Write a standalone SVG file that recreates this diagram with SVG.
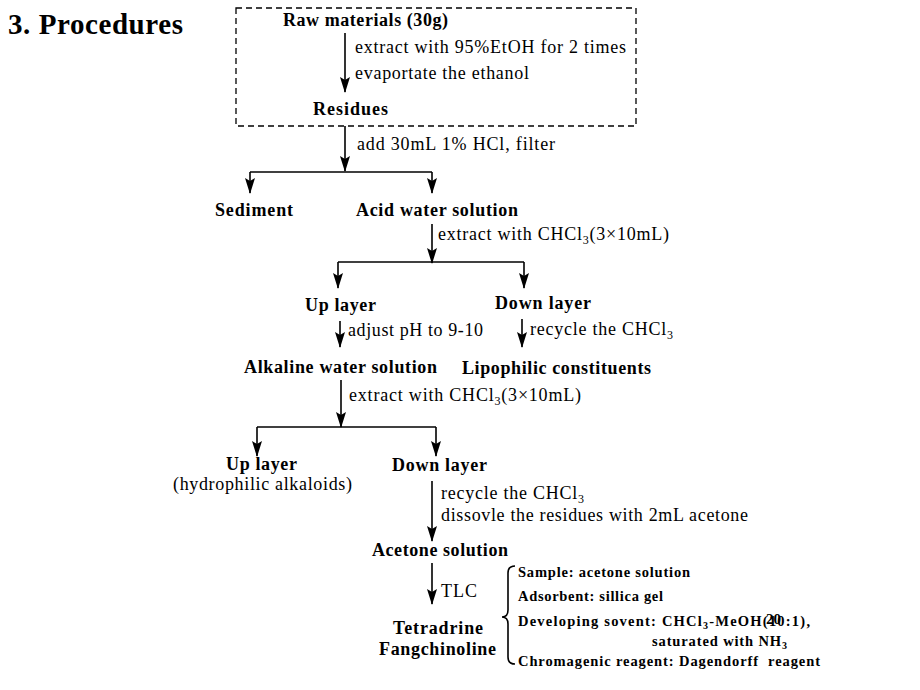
<svg xmlns="http://www.w3.org/2000/svg" width="920" height="690" viewBox="0 0 920 690">
<defs>
<marker id="ah" markerWidth="16" markerHeight="10" refX="15" refY="5" orient="auto" markerUnits="userSpaceOnUse" viewBox="0 0 16 10">
<path d="M0,0 L3,5 L0,10 L16,5 Z" fill="#000"/>
</marker>
<style>
.b{font-family:"Liberation Serif","Times New Roman",serif;font-weight:bold;font-size:18px;fill:#000}
.r{font-family:"Liberation Serif","Times New Roman",serif;font-size:18px;fill:#000}
.s{font-family:"Liberation Serif","Times New Roman",serif;font-weight:bold;font-size:14.5px;fill:#000}
.ln{stroke:#000;stroke-width:1.6;fill:none}
.ar{stroke:#000;stroke-width:1.6;fill:none;marker-end:url(#ah)}
</style>
</defs>
<rect width="920" height="690" fill="#fff"/>
<text x="8" y="34" textLength="175" lengthAdjust="spacing" style="font-family:'Liberation Serif','Times New Roman',serif;font-weight:bold;font-size:29px">3. Procedures</text>
<rect x="236" y="8" width="400" height="118" fill="none" stroke="#000" stroke-width="1.3" stroke-dasharray="6,4"/>

<g id="connectors">
<line class="ar" x1="345" y1="33" x2="345" y2="92"/>
<line class="ar" x1="345" y1="126" x2="345" y2="171"/>
<line class="ln" x1="250" y1="172" x2="432" y2="172"/>
<line class="ar" x1="250" y1="172" x2="250" y2="193"/>
<line class="ar" x1="432" y1="172" x2="432" y2="193"/>
<line class="ar" x1="432" y1="224" x2="432" y2="263"/>
<line class="ln" x1="338" y1="262" x2="524" y2="262"/>
<line class="ar" x1="338" y1="262" x2="338" y2="288"/>
<line class="ar" x1="524" y1="262" x2="524" y2="288"/>
<line class="ar" x1="340" y1="321" x2="340" y2="347"/>
<line class="ar" x1="522" y1="319" x2="522" y2="347"/>
<line class="ar" x1="341" y1="380" x2="341" y2="427"/>
<line class="ln" x1="257" y1="427" x2="436" y2="427"/>
<line class="ar" x1="257" y1="427" x2="257" y2="456"/>
<line class="ar" x1="436" y1="427" x2="436" y2="456"/>
<line class="ar" x1="432" y1="481" x2="432" y2="541"/>
<line class="ar" x1="432" y1="563" x2="432" y2="604"/>
<path class="ln" stroke-width="1.2" d="M515,566 Q508,566 508,573 L508,610 Q508,617 502,617 Q508,617 508,624 L508,657 Q508,664 515,664"/>
</g>

<g id="n-raw"><text class="b" x="283" y="26" textLength="165" lengthAdjust="spacing">Raw materials (30g)</text></g>
<g id="l1"><text class="r" x="355" y="53" textLength="271" lengthAdjust="spacing">extract with 95%EtOH for 2 times</text><text class="r" x="355" y="79" textLength="174" lengthAdjust="spacing">evaportate the ethanol</text></g>
<g id="n-residues"><text class="b" x="313" y="115" textLength="75" lengthAdjust="spacing">Residues</text></g>
<g id="l2"><text class="r" x="357" y="150" textLength="198" lengthAdjust="spacing">add 30mL 1% HCl, filter</text></g>
<g id="n-sediment"><text class="b" x="215" y="216" textLength="78" lengthAdjust="spacing">Sediment</text></g>
<g id="n-acid"><text class="b" x="356" y="216" textLength="162" lengthAdjust="spacing">Acid water solution</text></g>
<g id="l3"><text class="r" x="438" y="240" textLength="231" lengthAdjust="spacing">extract with CHCl<tspan font-size="12" dy="4">3</tspan><tspan dy="-4">(3×10mL)</tspan></text></g>
<g id="n-up1"><text class="b" x="305" y="311" textLength="71" lengthAdjust="spacing">Up layer</text></g>
<g id="n-down1"><text class="b" x="495" y="309" textLength="96" lengthAdjust="spacing">Down layer</text></g>
<g id="l4"><text class="r" x="348" y="336" textLength="135" lengthAdjust="spacing">adjust pH to 9-10</text><text class="r" x="530" y="335" textLength="143" lengthAdjust="spacing">recycle the CHCl<tspan font-size="12" dy="4">3</tspan></text></g>
<g id="n-alk"><text class="b" x="244" y="373" textLength="193" lengthAdjust="spacing">Alkaline water solution</text></g>
<g id="n-lipo"><text class="b" x="462" y="374" textLength="189" lengthAdjust="spacing">Lipophilic constituents</text></g>
<g id="l5"><text class="r" x="349" y="401" textLength="232" lengthAdjust="spacing">extract with CHCl<tspan font-size="12" dy="4">3</tspan><tspan dy="-4">(3×10mL)</tspan></text></g>
<g id="n-up2"><text class="b" x="226" y="470" textLength="71" lengthAdjust="spacing">Up layer</text><text class="r" x="173" y="490" textLength="179" lengthAdjust="spacing">(hydrophilic alkaloids)</text></g>
<g id="n-down2"><text class="b" x="392" y="471" textLength="95" lengthAdjust="spacing">Down layer</text></g>
<g id="l6"><text class="r" x="441" y="499" textLength="143" lengthAdjust="spacing">recycle the CHCl<tspan font-size="12" dy="4">3</tspan></text><text class="r" x="441" y="521" textLength="307" lengthAdjust="spacing">dissovle the residues with 2mL acetone</text></g>
<g id="n-acetone"><text class="b" x="372" y="556" textLength="136" lengthAdjust="spacing">Acetone solution</text></g>
<g id="l7"><text class="r" x="441" y="597" textLength="36" lengthAdjust="spacing">TLC</text></g>
<g id="n-final"><text class="b" x="393" y="634" textLength="90" lengthAdjust="spacing">Tetradrine</text><text class="b" x="379" y="655" textLength="117" lengthAdjust="spacing">Fangchinoline</text></g>
<g id="tlc-info">
<text class="s" x="518" y="577" textLength="172" lengthAdjust="spacing">Sample: acetone solution</text>
<text class="s" x="518" y="601" textLength="145" lengthAdjust="spacing">Adsorbent: sillica gel</text>
<text class="s" x="518" y="626" textLength="292" lengthAdjust="spacing">Developing sovent: CHCl<tspan font-size="10" dy="3">3</tspan><tspan dy="-3">-MeOH(10:1),</tspan></text>
<text class="s" x="652" y="646" textLength="135" lengthAdjust="spacing">saturated with NH<tspan font-size="10" dy="3">3</tspan></text>
<text class="s" x="518" y="666" textLength="302" lengthAdjust="spacing" xml:space="preserve">Chromagenic reagent: Dagendorff  reagent</text>
<text class="s" x="766" y="624" style="font-size:15px">20</text>
</g>
</svg>
